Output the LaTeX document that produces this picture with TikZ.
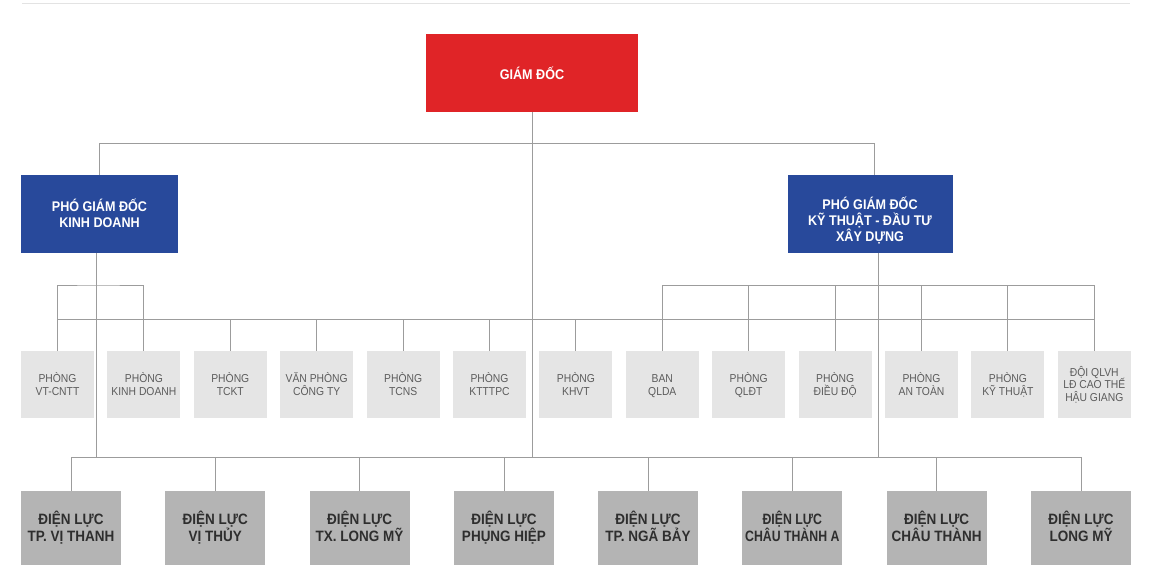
\documentclass[tikz,border=0pt]{standalone}
\usepackage{fontspec}
\setmainfont{Liberation Sans}
\newfontfamily\estrecha[FakeStretch=0.9]{Liberation Sans}
\newfontfamily\masestrecha[FakeStretch=0.82]{Liberation Sans}
\usetikzlibrary{positioning,calc}
\definecolor{rojo}{HTML}{E02427}
\definecolor{azul}{HTML}{28499B}
\definecolor{grisclaro}{HTML}{E5E5E5}
\definecolor{grisoscuro}{HTML}{B4B4B4}
\definecolor{linea}{HTML}{9C9C9C}
\definecolor{regla}{HTML}{E3E3E3}
\definecolor{tintaphong}{HTML}{5C5C5C}
\definecolor{tintadl}{HTML}{2E2E2E}

\begin{document}
\begin{tikzpicture}[x=1pt, y=-1pt,
  conector/.style={draw=linea, line width=1pt},
  caja/.style={inner sep=0pt, align=center},
  giamdoc/.style={caja, fill=rojo, text=white, minimum width=212pt, minimum height=78pt, text height=14pt, text depth=1.4pt, font=\estrecha\bfseries\fontsize{14}{17}\selectfont},
  phogd/.style={caja, fill=azul, text=white, minimum height=78pt, text height=30.6pt, text depth=4pt, font=\estrecha\bfseries\fontsize{14}{16}\selectfont},
  phong/.style={caja, fill=grisclaro, text=tintaphong, minimum width=73pt, minimum height=67pt, text height=24.6pt, text depth=3pt, font=\estrecha\fontsize{11.5}{12.5}\selectfont},
  dienluc/.style={caja, fill=grisoscuro, text=tintadl, minimum width=100pt, minimum height=74.5pt, text height=30pt, text depth=4pt, font=\estrecha\bfseries\fontsize{15}{16.7}\selectfont}]
\useasboundingbox (0,0) rectangle (1156,586);
\draw[regla, line width=1pt] (22,3.5) -- (1130,3.5);

% ================= ban giam doc =================
\node[giamdoc] (gd) at (532,73) {GIÁM ĐỐC};
\node[phogd, minimum width=157pt] (pkd) at (99.5,214) {PHÓ GIÁM ĐỐC\\KINH DOANH};
\node[phogd, minimum width=165pt, text height=58pt] (pkt) at (870,214) {PHÓ GIÁM ĐỐC\\KỸ THUẬT - ĐẦU TƯ\\XÂY DỰNG};

% ================= cac phong =================
\node[phong] (p1) at (57.5,384.5) {PHÒNG\\VT-CNTT};
\node[phong] (p2) at (143.9,384.5) {PHÒNG\\KINH DOANH};
\node[phong] (p3) at (230.3,384.5) {PHÒNG\\TCKT};
\node[phong] (p4) at (316.7,384.5) {VĂN PHÒNG\\CÔNG TY};
\node[phong] (p5) at (403.1,384.5) {PHÒNG\\TCNS};
\node[phong] (p6) at (489.5,384.5) {PHÒNG\\KTTTPC};
\node[phong] (p7) at (575.9,384.5) {PHÒNG\\KHVT};
\node[phong] (p8) at (662.3,384.5) {BAN\\QLDA};
\node[phong] (p9) at (748.7,384.5) {PHÒNG\\QLĐT};
\node[phong] (p10) at (835.1,384.5) {PHÒNG\\ĐIỀU ĐỘ};
\node[phong] (p11) at (921.5,384.5) {PHÒNG\\AN TOÀN};
\node[phong] (p12) at (1007.9,384.5) {PHÒNG\\KỸ THUẬT};
\node[phong, text height=36pt] (p13) at (1094.3,384.5) {ĐỘI QLVH\\LĐ CAO THẾ\\HẬU GIANG};

% ================= dien luc =================
\node[dienluc] (d1) at (71,528) {ĐIỆN LỰC\\TP. VỊ THANH};
\node[dienluc] (d2) at (215.3,528) {ĐIỆN LỰC\\VỊ THỦY};
\node[dienluc] (d3) at (359.6,528) {ĐIỆN LỰC\\TX. LONG MỸ};
\node[dienluc] (d4) at (504,528) {ĐIỆN LỰC\\PHỤNG HIỆP};
\node[dienluc] (d5) at (648,528) {ĐIỆN LỰC\\TP. NGÃ BẢY};
\node[dienluc, font=\masestrecha\bfseries\fontsize{15}{16.7}\selectfont] (d6) at (792.3,528) {ĐIỆN LỰC\\CHÂU THÀNH A};
\node[dienluc] (d7) at (936.6,528) {ĐIỆN LỰC\\CHÂU THÀNH};
\node[dienluc] (d8) at (1081,528) {ĐIỆN LỰC\\LONG MỸ};

% niveles de las barras
\coordinate (yr) at (0,143);
\coordinate (yb) at (0,285);
\coordinate (yl) at (0,319);
\coordinate (bus) at (0,457);

% ================= conexiones =================
% giam doc -> pho giam doc
\draw[conector] (pkd.north) |- ([xshift=4pt]pkt.north |- yr) -- ([xshift=4pt]pkt.north);
\draw[conector] (gd.south) -- (gd.south |- bus);
% pho giam doc kinh doanh
\draw[conector] ([xshift=-3pt]pkd.south) -- ([xshift=-3pt]pkd.south |- bus);
\draw[conector] (p1.north) |- ([xshift=-3pt]pkd.south |- yb) -| (p2.north);
% pho giam doc ky thuat
\draw[conector] ([xshift=8pt]pkt.south) -- ([xshift=8pt]pkt.south |- bus);
\draw[conector] (p8.north) |- (p13.north |- yb) -- (p13.north);
\draw[conector] (p9.north |- yb) -- (p9.north) (p10.north |- yb) -- (p10.north)
  (p11.north |- yb) -- (p11.north) (p12.north |- yb) -- (p12.north);
% barra de las phong
\draw[conector] (p1.north |- yl) -- (p13.north |- yl);
\draw[conector] (p3.north |- yl) -- (p3.north) (p4.north |- yl) -- (p4.north)
  (p5.north |- yl) -- (p5.north) (p6.north |- yl) -- (p6.north)
  (p7.north |- yl) -- (p7.north);
% barra de dien luc
\draw[conector] (d1.north |- bus) -- (d8.north |- bus);
\draw[conector] (d1.north |- bus) -- (d1.north) (d2.north |- bus) -- (d2.north)
  (d3.north |- bus) -- (d3.north) (d4.north |- bus) -- (d4.north)
  (d5.north |- bus) -- (d5.north) (d6.north |- bus) -- (d6.north)
  (d7.north |- bus) -- (d7.north) (d8.north |- bus) -- (d8.north);
\end{tikzpicture}
\end{document}
